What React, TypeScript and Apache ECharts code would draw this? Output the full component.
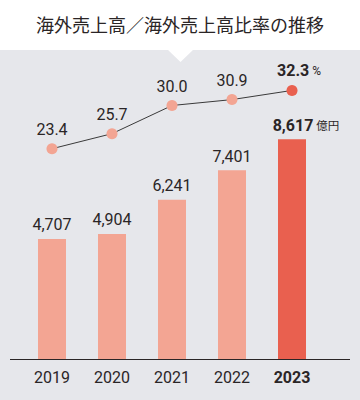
import React, { useEffect, useRef } from "react";
import * as echarts from "echarts";

const years = ["2019", "2020", "2021", "2022", "2023"];
const salesValues = [4707, 4904, 6241, 7401, 8617];
const ratioValues = [23.4, 25.7, 30.0, 30.9, 32.3];
const titleText = "海外売上高／海外売上高比率の推移";

const LIGHT = "#f3a593";
const DARK = "#e9604f";
const TEXT = "#2a2526";
const BG = "#e6e7eb";

export default function App() {
  const ref = useRef<HTMLDivElement>(null);
  useEffect(() => {
    document.body.style.margin = "0";
    const chart = echarts.init(ref.current!, null, { renderer: "svg" });
    const last = years.length - 1;
    chart.setOption({
      animation: false,
      backgroundColor: "#ffffff",
      textStyle: { fontFamily: "Roboto, 'Noto Sans CJK JP', sans-serif" },
      graphic: [
        { type: "rect", shape: { x: 0, y: 50, width: 360, height: 350 }, style: { fill: BG }, z: -10 },
        { type: "polygon", shape: { points: [[167, 49], [194, 49], [180.5, 62]] }, style: { fill: "#ffffff" }, z: -9 },
        { type: "line", shape: { x1: 10, y1: 359.5, x2: 350, y2: 359.5 }, style: { stroke: TEXT, lineWidth: 1 }, z: 5 },
        {
          type: "text", x: 180, y: 24,
          style: { text: titleText, fill: TEXT, font: "normal 18px 'Noto Sans CJK JP'", align: "center", verticalAlign: "middle" },
        },
      ],
      grid: [
        { left: 22, width: 300, top: 104, height: 255 },
        { left: 22, width: 300, top: 40, height: 262 },
      ],
      xAxis: [
        {
          type: "category", data: years, gridIndex: 0,
          axisLine: { show: false }, axisTick: { show: false },
          axisLabel: {
            interval: 0, margin: 10, fontSize: 16, color: TEXT, fontFamily: "Roboto",
            formatter: (v: string, i: number) => (i === last ? `{b|${v}}` : v),
            rich: { b: { fontSize: 16, fontWeight: "bold", color: TEXT, fontFamily: "Roboto" } },
          },
        },
        { type: "category", data: years, gridIndex: 1, show: false },
      ],
      yAxis: [
        { type: "value", gridIndex: 0, min: 0, max: 10000, show: false, splitLine: { show: false } },
        { type: "value", gridIndex: 1, min: 0, max: 40, show: false, splitLine: { show: false } },
      ],
      series: [
        {
          type: "bar", xAxisIndex: 0, yAxisIndex: 0, barWidth: 28,
          data: salesValues.map((v, i) => ({
            value: v,
            itemStyle: { color: i === last ? DARK : LIGHT },
            label: i === last
              ? {
                  show: true, position: "top", distance: 6, offset: [14, 0],
                  formatter: (p: any) => `{b|${p.value.toLocaleString("en-US")}} {u|億円}`,
                  rich: {
                    b: { fontSize: 16, fontWeight: "bold", color: TEXT, fontFamily: "Roboto" },
                    u: { fontSize: 11.5, color: TEXT, fontFamily: "'Noto Sans CJK JP'" },
                  },
                }
              : {
                  show: true, position: "top", distance: 6, fontSize: 16, color: TEXT, fontFamily: "Roboto",
                  formatter: (p: any) => p.value.toLocaleString("en-US"),
                },
          })),
        },
        {
          type: "line", xAxisIndex: 1, yAxisIndex: 1,
          symbol: "circle", symbolSize: 11,
          lineStyle: { color: "#3a3a3a", width: 1 },
          data: ratioValues.map((v, i) => ({
            value: v,
            itemStyle: { color: i === last ? DARK : LIGHT },
            label: i === last
              ? {
                  show: true, position: "top", distance: 6, offset: [7, 0],
                  formatter: (p: any) => `{b|${p.value.toFixed(1)}} {u|%}`,
                  rich: {
                    b: { fontSize: 16, fontWeight: "bold", color: TEXT, fontFamily: "Roboto" },
                    u: { fontSize: 12, color: TEXT, fontFamily: "Roboto" },
                  },
                }
              : {
                  show: true, position: "top", distance: 6, fontSize: 16, color: TEXT, fontFamily: "Roboto",
                  formatter: (p: any) => p.value.toFixed(1),
                },
          })),
        },
      ],
    });
    return () => chart.dispose();
  }, []);
  return <div ref={ref} style={{ position: "absolute", left: 0, top: 0, width: 360, height: 400 }} />;
}
